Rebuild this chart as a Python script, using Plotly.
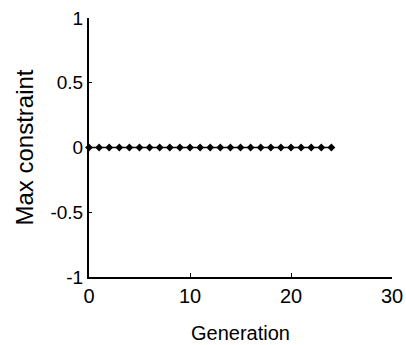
import plotly.graph_objects as go

generation = list(range(0, 25))
max_constraint = [0] * 25

x_ticks = [0, 10, 20, 30]
y_ticks = [-1, -0.5, 0, 0.5, 1]
y_tick_labels = ["-1", "-0.5", "0", "0.5", "1"]

fig = go.Figure()
fig.add_trace(go.Scatter(
    x=generation, y=max_constraint,
    mode="lines+markers",
    line=dict(color="black", width=1.5),
    marker=dict(symbol="diamond", size=6, color="black"),
    showlegend=False,
    cliponaxis=False,
))

fig.update_layout(
    width=406, height=345,
    margin=dict(l=89, r=14, t=18, b=68),
    paper_bgcolor="white", plot_bgcolor="white",
    font=dict(family="Liberation Sans, Arial, sans-serif", color="black"),
    xaxis=dict(
        range=[0, 30], tickvals=x_ticks, showgrid=False, zeroline=False,
        showline=True, linecolor="black", linewidth=1.5,
        ticks="inside", ticklen=4, tickcolor="black",
        tickfont=dict(size=20), automargin=False, ticklabeloverflow="allow",
        title=dict(text="Generation", font=dict(size=20), standoff=20),
    ),
    yaxis=dict(
        range=[-1, 1], tickvals=y_ticks, ticktext=y_tick_labels,
        showgrid=False, zeroline=False,
        showline=True, linecolor="black", linewidth=2,
        ticks="inside", ticklen=3, tickcolor="black",
        tickfont=dict(size=19), automargin=False, ticklabeloverflow="allow",
        title=dict(text="Max constraint", font=dict(size=24), standoff=10),
    ),
)

fig.write_html(
    "out.html",
    config={"displayModeBar": False},
    post_script="document.body.style.margin='0';document.body.style.overflow='hidden';",
)
